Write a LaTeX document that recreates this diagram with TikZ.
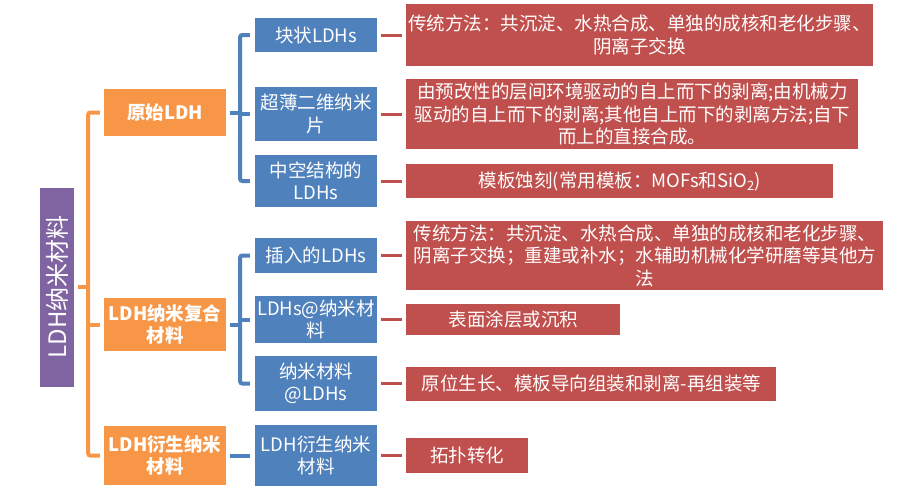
\documentclass[tikz,border=0pt]{standalone}
\usepackage{fontspec}
\setmainfont{Noto Sans CJK SC}
\usetikzlibrary{positioning}

\definecolor{rootpurple}{HTML}{8064A2}
\definecolor{grouporange}{HTML}{F79646}
\definecolor{itemblue}{HTML}{4F81BD}
\definecolor{detailred}{HTML}{C0504D}

\begin{document}
\begin{tikzpicture}[x=1pt,y=-1pt,node distance=29pt]
\tikzstyle{box}=[rectangle,inner sep=2pt,text=white,align=center,font=\fontsize{18.5}{22.5}\selectfont]

% Define the root style for the vertical title node
\tikzstyle{rootbox}=[box,fill=rootpurple,rotate=90,minimum width=199pt,minimum height=34pt,font=\fontsize{24}{28}\selectfont]

% Define the group style for the orange nodes
\tikzstyle{group}=[box,fill=grouporange,minimum width=122pt,font=\fontsize{18.5}{22.5}\selectfont\bfseries]

% Define the item style for the blue nodes
\tikzstyle{item}=[box,fill=itemblue,minimum width=122pt]

% Define the detail style for the red nodes
\tikzstyle{detail}=[box,fill=detailred]

\tikzstyle{trunk}=[draw=grouporange,line width=4pt,rounded corners=2pt]
\tikzstyle{branch}=[draw=itemblue,line width=4pt,rounded corners=2pt]
\tikzstyle{link}=[draw=detailred,line width=3pt]

\useasboundingbox (0,0) rectangle (923,491);

% define the nodes in the tree
\node (root) [rootbox] at (57,287) {LDH纳米材料};

\node (o1) [group,minimum height=47pt] at (165,112.5) {原始LDH};
\node (o2) [group,minimum height=53pt] at (165,324.5) {LDH纳米复合\\材料};
\node (o3) [group,minimum height=59pt] at (165,455.5) {LDH衍生纳米\\材料};

\node (b1) [item,minimum height=34pt] at (316,35) {块状LDHs};
\node (b2) [item,minimum height=54pt] at (316,114) {超薄二维纳米\\片};
\node (b3) [item,minimum height=52pt] at (316,181) {中空结构的\\LDHs};
\node (b4) [item,minimum height=35pt] at (316,255.5) {插入的LDHs};
\node (b5) [item,minimum height=47pt] at (316,319.5) {LDHs@纳米材\\料};
\node (b6) [item,minimum height=55pt] at (316,383.5) {纳米材料\\@LDHs};
\node (b7) [item,minimum height=61pt] at (316,455.5) {LDH衍生纳米\\材料};

\node (r1) [detail,right=of b1,minimum width=466pt,minimum height=62pt] {传统方法：共沉淀、水热合成、单独的成核和老化步骤、\\阴离子交换};
\node (r2) [detail,right=of b2,minimum width=452pt,minimum height=70pt] {由预改性的层间环境驱动的自上而下的剥离;由机械力\\驱动的自上而下的剥离;其他自上而下的剥离方法;自下\\而上的直接合成。};
\node (r3) [detail,right=of b3,minimum width=427pt,minimum height=34pt] {模板蚀刻(常用模板：MOFs和SiO\textsubscript{2})};
\node (r4) [detail,right=of b4,minimum width=477pt,minimum height=69pt] {传统方法：共沉淀、水热合成、单独的成核和老化步骤、\\阴离子交换；重建或补水；水辅助机械化学研磨等其他方\\法};
\node (r5) [detail,right=of b5,minimum width=214pt,minimum height=31pt] {表面涂层或沉积};
\node (r6) [detail,right=of b6,minimum width=370pt,minimum height=34pt] {原位生长、模板导向组装和剥离-再组装等};
\node (r7) [detail,right=of b7,minimum width=122pt,minimum height=35pt] {拓扑转化};

% define the connectors between the nodes
\coordinate (spine) at ([xshift=14pt]root.south);
\draw[trunk] ([xshift=4pt]root.south) -- (spine);
\draw[trunk] ([xshift=-4pt]o1.west) -| (spine) |- ([xshift=-4pt]o3.west);
\draw[trunk] (spine |- o2.west) -- ([xshift=-4pt]o2.west);

\coordinate (fork1) at ([xshift=14pt]o1.east);
\draw[branch] ([xshift=4pt]o1.east) -- (fork1);
\draw[branch] ([xshift=-5pt]b1.west) -| (fork1) |- ([xshift=-5pt]b3.west);
\draw[branch] (fork1 |- b2.west) -- ([xshift=-5pt]b2.west);

\coordinate (fork2) at ([xshift=14pt]o2.east);
\draw[branch] ([xshift=4pt]o2.east) -- (fork2);
\draw[branch] ([xshift=-5pt]b4.west) -| (fork2) |- ([xshift=-5pt]b6.west);
\draw[branch] (fork2 |- b5.west) -- ([xshift=-5pt]b5.west);

\draw[branch] ([xshift=4pt]o3.east) -- ([xshift=-5pt]b7.west);

\draw[link] ([xshift=4pt]b1.east) -- ([xshift=-4pt]r1.west);
\draw[link] ([xshift=4pt]b2.east) -- ([xshift=-4pt]r2.west);
\draw[link] ([xshift=4pt]b3.east) -- ([xshift=-4pt]r3.west);
\draw[link] ([xshift=4pt]b4.east) -- ([xshift=-4pt]r4.west);
\draw[link] ([xshift=4pt]b5.east) -- ([xshift=-4pt]r5.west);
\draw[link] ([xshift=4pt]b6.east) -- ([xshift=-4pt]r6.west);
\draw[link] ([xshift=4pt]b7.east) -- ([xshift=-4pt]r7.west);

\end{tikzpicture}
\end{document}
